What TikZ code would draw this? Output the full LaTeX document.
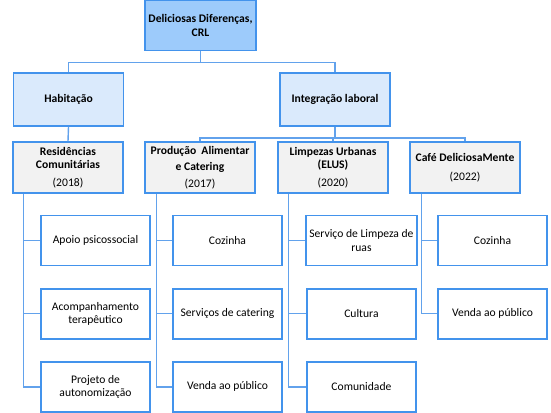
\documentclass[tikz,border=0pt]{standalone}
\usepackage{fontspec}
\setmainfont{Carlito}
\usepackage{xcolor}
\usetikzlibrary{positioning}

\definecolor{edgeblue}{HTML}{4393EC}
\definecolor{linkblue}{HTML}{62A2EC}
\definecolor{topfill}{HTML}{9DCBFB}
\definecolor{areafill}{HTML}{DAEAFC}
\definecolor{unitfill}{HTML}{F2F2F2}

\begin{document}
\begin{tikzpicture}[
    x=1pt, y=1pt,
    font=\fontsize{11.6}{13.5}\selectfont,
    topbox/.style={
        draw=edgeblue, line width=1.6pt, rectangle, fill=topfill,
        minimum width=111pt, minimum height=50pt, align=center,
        font=\fontsize{11.6}{13.5}\selectfont\bfseries
    },
    areabox/.style={
        draw=edgeblue, line width=1.6pt, rectangle, fill=areafill,
        minimum width=110pt, minimum height=53pt, align=center,
        font=\fontsize{11.6}{13.5}\selectfont\bfseries
    },
    unitbox/.style={
        draw=edgeblue, line width=1.6pt, rectangle, fill=unitfill,
        minimum width=110pt, minimum height=51pt, align=center
    },
    taskbox/.style={
        draw=edgeblue, line width=1.6pt, rectangle, fill=white,
        minimum width=109pt, minimum height=50pt, align=center
    },
    link/.style={
        draw=linkblue, line width=1.4pt
    }
]

\useasboundingbox (0,0) rectangle (551,-412);

\node [topbox] (crl) at (200.5,-25.5) {Deliciosas Diferenças,\\CRL};

\node [areabox] (hab) at (68.5,-99.5) {Habitação};

\node [areabox] (integ) at (335,-99.5) {Integração laboral};

\node [unitbox] (res)  at (68,-167.5)  {\textbf{Residências}\\\textbf{Comunitárias}\\[4pt](2018)};
\node [unitbox] (prod) at (200,-167.5) {\textbf{Produção\ \ Alimentar}\\[3pt]\textbf{e Catering}\\[3pt](2017)};
\node [unitbox] (limp) at (333,-167.5) {\textbf{Limpezas Urbanas}\\\textbf{(ELUS)}\\[4pt](2020)};
\node [unitbox] (cafe) at (465,-167.5) {\textbf{Café DeliciosaMente}\\[5pt](2022)};

\node [taskbox, below right=21pt and 28pt of res.south west] (res1) {Apoio psicossocial};
\node [taskbox, below=21.5pt of res1] (res2) {Acompanhamento\\terapêutico};
\node [taskbox, below=21.5pt of res2] (res3) {Projeto de\\autonomização};

\node [taskbox, below right=21pt and 28pt of prod.south west] (prod1) {Cozinha};
\node [taskbox, below=21.5pt of prod1] (prod2) {Serviços de catering};
\node [taskbox, below=21.5pt of prod2] (prod3) {Venda ao público};

\node [taskbox, below right=21pt and 28pt of limp.south west] (limp1) {Serviço de Limpeza de\\ruas};
\node [taskbox, below=21.5pt of limp1] (limp2) {Cultura};
\node [taskbox, below=21.5pt of limp2] (limp3) {Comunidade};

\node [taskbox, below right=21pt and 28pt of cafe.south west] (cafe1) {Cozinha};
\node [taskbox, below=21.5pt of cafe1] (cafe2) {Venda ao público};

\draw[link] (crl.south) -- ++(0,-11) -| (hab.north);
\draw[link] (crl.south) -- ++(0,-11) -| (integ.north);

\draw[link] (hab.south) -- (res.north);

\draw[link] (integ.south) -- ++(0,-11) -| (prod.north);
\draw[link] (integ.south) -- ++(0,-11) -| (limp.north);
\draw[link] (integ.south) -- ++(0,-11) -| (cafe.north);

\draw[link] ([xshift=11pt]res.south west) |- (res1.west);
\draw[link] ([xshift=11pt]res.south west) |- (res2.west);
\draw[link] ([xshift=11pt]res.south west) |- (res3.west);

\draw[link] ([xshift=12pt]prod.south west) |- (prod1.west);
\draw[link] ([xshift=12pt]prod.south west) |- (prod2.west);
\draw[link] ([xshift=12pt]prod.south west) |- (prod3.west);

\draw[link] ([xshift=11pt]limp.south west) |- (limp1.west);
\draw[link] ([xshift=11pt]limp.south west) |- (limp2.west);
\draw[link] ([xshift=11pt]limp.south west) |- (limp3.west);

\draw[link] ([xshift=12pt]cafe.south west) |- (cafe1.west);
\draw[link] ([xshift=12pt]cafe.south west) |- (cafe2.west);

\end{tikzpicture}
\end{document}
